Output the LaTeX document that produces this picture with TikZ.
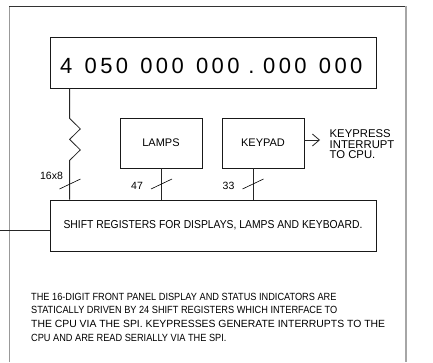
\documentclass[tikz,border=0pt]{standalone}
\usepackage{fontspec}
\setmainfont{Liberation Sans}
\usetikzlibrary{arrows.meta}
\newcommand\dgk{\kern3.37pt}
\newcommand\grk{\kern12.27pt}
\newcommand\ptk{\kern8.8pt}
\begin{document}
\begin{tikzpicture}[x=1pt,y=-1pt,
  box/.style={draw=black!90,line width=0.8pt,rectangle,inner sep=0pt},
  wire/.style={draw=black!85,line width=0.8pt},
  tick/.style={draw=black,line width=0.6pt},
  lbl/.style={inner sep=0pt,font=\fontsize{10.5}{12}\selectfont},
  para/.style={inner sep=0pt,anchor=base west,font=\fontsize{10.4}{12}\selectfont},
  kp/.style={inner sep=0pt,anchor=base west,font=\fontsize{11.3}{12}\selectfont},
]
\useasboundingbox[fill=white] (0,0) rectangle (433,362);
\draw[gray!80,line width=1pt] (9,362) -- (9,6);
\draw[black!80,line width=0.8pt] (9,6) -- (406,6);
\draw[gray!70,line width=1.6pt] (406,6) -- (406,362);

\node[box,minimum width=326pt,minimum height=51pt] (disp) at (213,62.5) {};
\node[anchor=base,inner sep=0pt,font=\fontsize{22}{26}\selectfont] (digits) at (211.3,73)
  {4\grk 0\dgk 5\dgk 0\grk 0\dgk 0\dgk 0\grk 0\dgk 0\dgk 0\ptk.\ptk 0\dgk 0\dgk 0\grk 0\dgk 0\dgk 0};

\node[box,minimum width=82pt,minimum height=50pt,font=\fontsize{11}{13}\selectfont] (lamps) at (161,143) {LAMPS};
\node[box,minimum width=82pt,minimum height=50pt,font=\fontsize{11}{13}\selectfont] (keypad) at (263,143) {KEYPAD};

\node[box,minimum width=326pt,minimum height=51pt,font=\fontsize{11.5}{13}\selectfont] (sr) at (213,225.5)
  {\scalebox{0.9}[1]{SHIFT REGISTERS FOR DISPLAYS, LAMPS AND KEYBOARD.}};

% display connector with zigzag
\draw[wire] ([xshift=20]disp.south west) -- ++(0,30) -- ++(10.7,10.5) -- ++(-10.7,10.5)
  -- ++(10.7,10.5) -- ++(-10.7,10.5) -- ([xshift=20]sr.north west);
\draw[wire] (lamps.south) -- (lamps.south |- sr.north);
\draw[wire] ([xshift=-10]keypad.south) -- ([xshift=-10]keypad.south |- sr.north);

% bus slashes
\draw[tick] (59.5,189) -- (80.5,179);
\draw[tick] (151,189) -- (172,179);
\draw[tick] (242.5,189) -- (263.5,179);
\node[lbl] (l16) at (51.5,175.7) {16x8};
\node[lbl] (l47) at (137,186) {47};
\node[lbl] (l33) at (228.5,186) {33};

% keypress arrow
\coordinate (kpa) at (320,140);
\draw[wire,-{Straight Barb[length=7pt,width=12pt]}] (keypad.east |- kpa) -- (kpa);
\node[kp] (k1) at (329.5,137.9) {KEYPRESS};
\node[kp] (k2) at (329.5,148.2) {INTERRUPT};
\node[kp] (k3) at (329.5,158.6) {TO CPU.};

% input line
\coordinate (inp) at (0,230.5);
\draw[wire] (inp) -- (inp -| sr.west);

% paragraph
\node[para] (p1) at (31,300) {\scalebox{0.885}[1]{THE 16-DIGIT FRONT PANEL DISPLAY AND STATUS INDICATORS ARE}};
\node[para] (p2) at (31,313.5) {\scalebox{0.885}[1]{STATICALLY DRIVEN BY 24 SHIFT REGISTERS WHICH INTERFACE TO}};
\node[para] (p3) at (31,327.5) {THE CPU VIA THE SPI. KEYPRESSES GENERATE INTERRUPTS TO THE};
\node[para] (p4) at (31,341) {\scalebox{0.885}[1]{CPU AND ARE READ SERIALLY VIA THE SPI.}};
\end{tikzpicture}
\end{document}
